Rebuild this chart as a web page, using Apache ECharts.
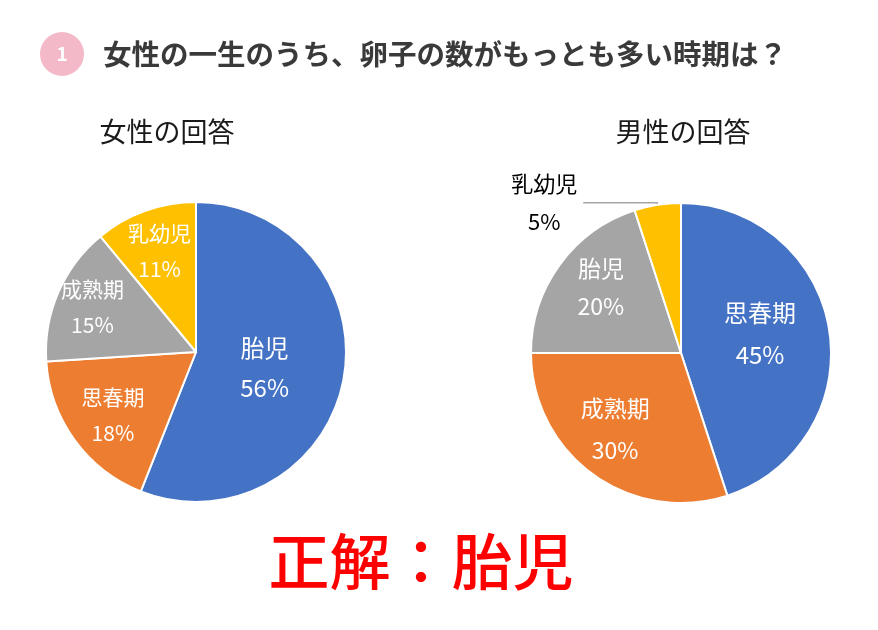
<!DOCTYPE html>
<html><head><meta charset="utf-8">
<script src="https://cdn.jsdelivr.net/npm/echarts@6/dist/echarts.min.js"></script>
<style>html,body{margin:0;padding:0;background:#fff}#c{width:878px;height:630px}</style>
</head><body><div id="c"></div>
<script>
const FONT = '"Noto Sans CJK JP", "Noto Sans", sans-serif';
const questionNumber = '1';
const questionText = '女性の一生のうち、卵子の数がもっとも多い時期は？';
const femaleTitle = '女性の回答';
const maleTitle = '男性の回答';
const answerText = '正解：胎児';
const femaleCategories = ['胎児', '思春期', '成熟期', '乳幼児'];
const femaleValues = [56, 18, 15, 11];
const maleCategories = ['思春期', '成熟期', '胎児', '乳幼児'];
const maleValues = [45, 30, 20, 5];
const sliceColors = ['#4472C4', '#ED7D31', '#A5A5A5', '#FFC000'];

// label tuning (style only)
const femaleLabelFont = [24, 21, 21, 21];
const femaleLabelLH = [40, 36, 36, 36];
const femaleShift = [[-8, 1], [-20, 17], [-32, -14], [-10, -28]];
const maleLabelFont = [24, 23, 23, 22];
const maleLabelLH = [42, 42, 38, 38];
const maleShift = [[2, -7], [-20, 13], [-17, -20], [0, 0]];

function buildData(cats, vals, fonts, lhs, outsideIdx) {
  return cats.map((c, i) => {
    const item = { name: c, value: vals[i], itemStyle: { color: sliceColors[i] },
      label: { fontSize: fonts[i], lineHeight: lhs[i] } };
    if (i === outsideIdx) {
      item.label = {
        position: 'outside', color: '#000', fontSize: fonts[i],
        formatter: '{a|{b}}\n{a|{c}%}',
        rich: { a: { width: 68, align: 'center', fontSize: fonts[i], lineHeight: lhs[i], color: '#000', fontFamily: FONT } }
      };
      item.labelLine = { show: true, length: 2, length2: 74, lineStyle: { color: '#A6A6A6', width: 1.5 } };
    }
    return item;
  });
}

const chart = echarts.init(document.getElementById('c'), null, { renderer: 'canvas' });
const pieBase = {
  type: 'pie', radius: 150, startAngle: 90, clockwise: true,
  avoidLabelOverlap: false, silent: true,
  itemStyle: { borderColor: '#fff', borderWidth: 2 },
  label: { show: true, position: 'inside', color: '#fff', fontFamily: FONT, formatter: '{b}\n{c}%' },
  labelLine: { show: false },
  emphasis: { disabled: true }
};
chart.setOption({
  animation: false,
  graphic: [
    { type: 'circle', shape: { cx: 62, cy: 54, r: 22 }, style: { fill: '#F4B9C8' } },
    { type: 'text', style: { x: 62, y: 54, text: questionNumber, fill: '#fff', font: 'bold 19px ' + FONT, textAlign: 'center', textVerticalAlign: 'middle', align: 'center', verticalAlign: 'middle' } },
    { type: 'text', style: { x: 103, y: 54, text: questionText, fill: '#3a3a3a', font: 'bold 28.5px ' + FONT, textAlign: 'left', textVerticalAlign: 'middle', align: 'left', verticalAlign: 'middle' } },
    { type: 'text', style: { x: 167, y: 132, text: femaleTitle, fill: '#1a1a1a', font: '27px ' + FONT, textAlign: 'center', textVerticalAlign: 'middle', align: 'center', verticalAlign: 'middle' } },
    { type: 'text', style: { x: 683, y: 132, text: maleTitle, fill: '#1a1a1a', font: '27px ' + FONT, textAlign: 'center', textVerticalAlign: 'middle', align: 'center', verticalAlign: 'middle' } },
    { type: 'text', style: { x: 421, y: 562, text: answerText, fill: '#FF0000', font: '500 61px ' + FONT, textAlign: 'center', textVerticalAlign: 'middle', align: 'center', verticalAlign: 'middle' } }
  ],
  series: [
    Object.assign({}, pieBase, {
      center: [196, 352],
      data: buildData(femaleCategories, femaleValues, femaleLabelFont, femaleLabelLH, -1),
      labelLayout: p => ({ dx: femaleShift[p.dataIndex][0], dy: femaleShift[p.dataIndex][1] })
    }),
    Object.assign({}, pieBase, {
      center: [681, 353],
      data: buildData(maleCategories, maleValues, maleLabelFont, maleLabelLH, 3),
      labelLayout: p => p.dataIndex === 3 ? {} : ({ dx: maleShift[p.dataIndex][0], dy: maleShift[p.dataIndex][1] })
    })
  ]
});
</script></body></html>
